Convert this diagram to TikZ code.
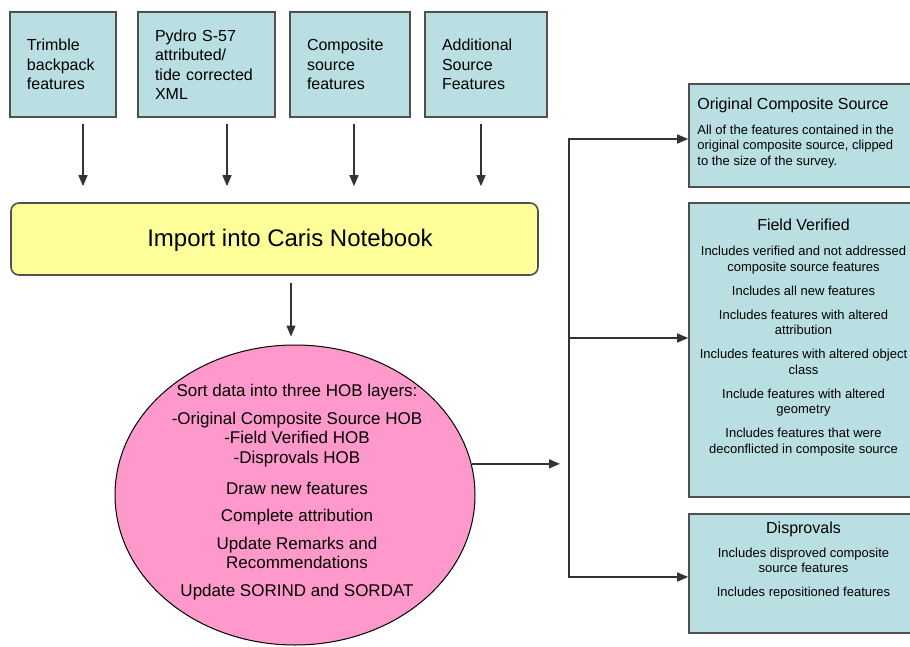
\documentclass[tikz,border=0pt]{standalone}
\usepackage{fontspec}
\setmainfont{Liberation Sans}
\usepackage{xcolor}
\definecolor{srcblue}{RGB}{186, 223, 226}
\definecolor{importyel}{RGB}{255, 255, 153}
\definecolor{sortpink}{RGB}{255, 153, 204}
\definecolor{edgegray}{RGB}{80, 80, 80}
\usepackage{tikz}
\usetikzlibrary{shapes, arrows, positioning, arrows.meta}
\newcommand{\T}[1]{{\fontsize{16}{18}\selectfont #1}}

\begin{document}
\begin{tikzpicture}[x=1pt, y=-1pt,
    srcbox/.style={draw=edgegray, line width=1.6pt, fill=srcblue, minimum height=105pt,
        inner xsep=17pt, align=left, font=\fontsize{16}{19.5}\selectfont},
    outbox/.style={draw=edgegray, line width=1.6pt, fill=srcblue, minimum width=229pt},
    outtext/.style={inner sep=0pt, font=\fontsize{13}{15.5}\selectfont},
    flow/.style={draw=black!80, line width=1.4pt, -{Triangle[length=11pt, width=9pt]}},
    flowboth/.style={draw=black!80, line width=1.4pt,
        {Triangle[length=11pt, width=9pt]}-{Triangle[length=11pt, width=9pt]}}]
    \useasboundingbox (0,0) rectangle (910,647);
    \clip (0,0) rectangle (910,647);

    %######## Fuentes de datos #############
    \node[srcbox, text width=72pt] (trimble) at (63,64.5) {Trimble\\backpack\\features};
    \node[srcbox, text width=103pt] (pydro) at (206.5,64.5) {Pydro S-57\\attributed/\\tide corrected\\XML};
    \node[srcbox, text width=86pt] (compsrc) at (350,64.5) {Composite\\source\\features};
    \node[srcbox, text width=88pt] (addsrc) at (486,64.5) {Additional\\Source\\Features};

    % Import
    \node[draw=edgegray, line width=1.6pt, fill=importyel, rounded corners=8pt,
        minimum width=527pt, minimum height=72pt] (import) at (274.5,239) {};
    \node[font=\fontsize{24}{28}\selectfont] (importtxt) at (290,240) {Import into Caris Notebook};

    % Flechas hacia Import
    \draw[flow, shorten <=6pt, shorten >=16pt] (trimble.south -| 83,0) -- (import.north -| 83,0);
    \draw[flow, shorten <=6pt, shorten >=16pt] (pydro.south -| 227,0) -- (import.north -| 227,0);
    \draw[flow, shorten <=6pt, shorten >=16pt] (compsrc.south -| 354,0) -- (import.north -| 354,0);
    \draw[flow, shorten <=6pt, shorten >=16pt] (addsrc.south -| 481,0) -- (import.north -| 481,0);

    %######## Elipse #############
    \node[ellipse, draw=black, line width=1pt, fill=sortpink,
        minimum width=360pt, minimum height=300pt] (sort) at (295,495) {};
    \node[align=center, font=\fontsize{17}{19.5}\selectfont] (sorttxt) at (297,492)
        {Sort data into three HOB layers:\\[8.5pt]
         -Original Composite Source HOB\\
         -Field Verified HOB\\
         -Disprovals HOB\\[11.5pt]
         Draw new features\\[7.5pt]
         Complete attribution\\[8.5pt]
         Update Remarks and\\
         Recommendations\\[8.5pt]
         Update SORIND and SORDAT};
    \draw[flow, shorten <=7pt, shorten >=8pt] (import.south -| 291,0) -- (sort.north -| 291,0);

    %######## Cajas de salida #############
    \node[outbox, minimum height=103pt] (ocs) at (803.5,135.5) {};
    \node[outbox, minimum height=294pt] (fv) at (803.5,350) {};
    \node[outbox, minimum height=119pt] (dis) at (803.5,573.5) {};

    \node[outtext, align=left, below right=15pt and 9pt of ocs.north west] (ocstxt)
        {\T{Original Composite Source}\\[9pt]
         All of the features contained in the\\
         original composite source, clipped\\
         to the size of the survey.};
    \node[outtext, align=center, below=17pt of fv.north] (fvtxt)
        {\T{Field Verified}\\[9.5pt]
         Includes verified and not addressed\\
         composite source features\\[8.5pt]
         Includes all new features\\[8.5pt]
         Includes features with altered\\
         attribution\\[8.5pt]
         Includes features with altered object\\
         class\\[8.5pt]
         Include features with altered\\
         geometry\\[8.5pt]
         Includes features that were\\
         deconflicted in composite source};
    \node[outtext, align=center, below=9pt of dis.north] (distxt)
        {\T{Disprovals}\\[8pt]
         Includes disproved composite\\
         source features\\[8.5pt]
         Includes repositioned features};

    % Distribucion
    \coordinate (bustop) at (569,139);
    \coordinate (busmid) at (569,338);
    \coordinate (busbot) at (569,577);
    \draw[flow, shorten >=9pt] (sort.10) -- (sort.10 -| bustop);
    \draw[flowboth] (bustop -| ocs.west) -- (bustop) -- (busbot) -- (busbot -| dis.west);
    \draw[flow] (busmid) -- (busmid -| fv.west);
\end{tikzpicture}
\end{document}
